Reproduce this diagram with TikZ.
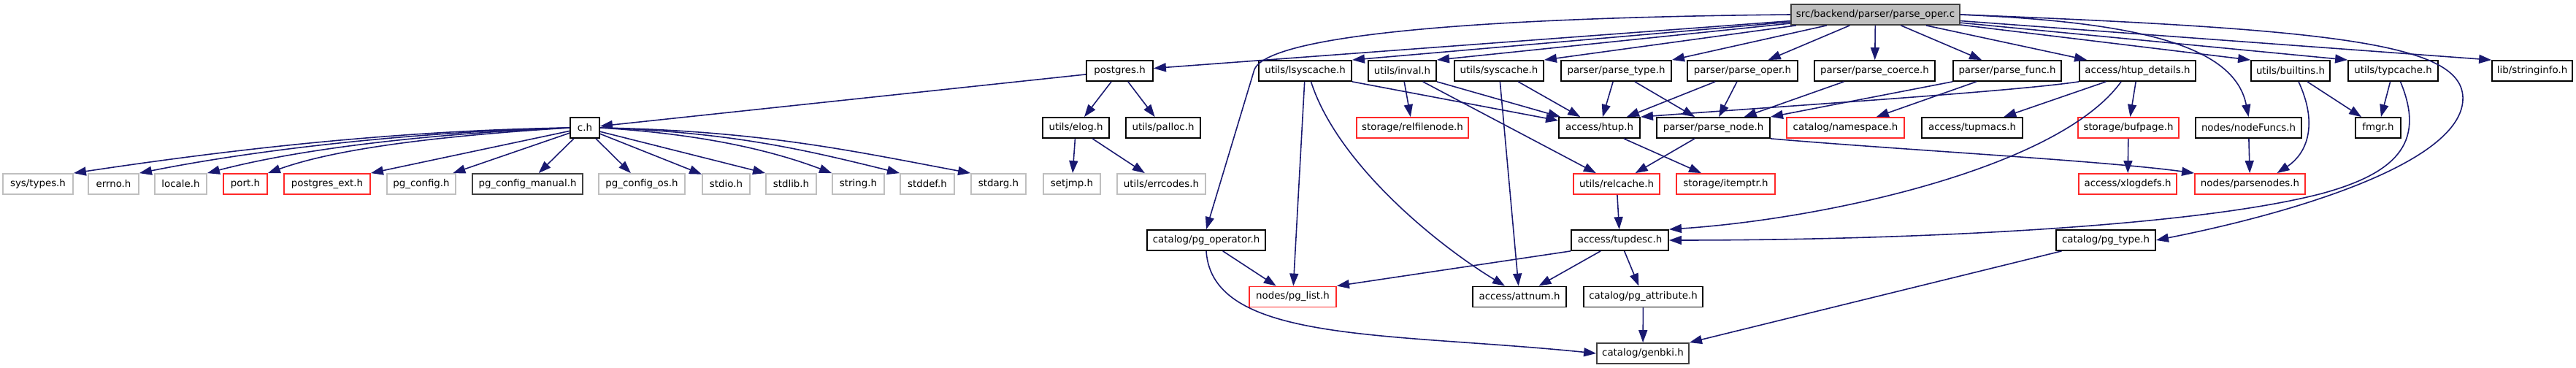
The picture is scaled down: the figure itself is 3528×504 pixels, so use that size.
\documentclass[tikz,border=0pt]{standalone}
\usepackage{fontspec}
\setmainfont{DejaVu Sans}
\usepackage{xcolor}
\usepackage{tikz}
\usetikzlibrary{positioning, arrows.meta}

\definecolor{edgeblue}{RGB}{25,25,112}
\definecolor{nodoc}{RGB}{191,191,191}
\definecolor{truncred}{RGB}{255,40,40}

\begin{document}
\begin{tikzpicture}[x=0.01cm, y=0.01cm,
    hdr/.style={draw=black, fill=white, line width=0.5pt, inner sep=0pt, minimum height=0.28cm, font=\fontsize{3.8}{4.6}\selectfont},
    nodochdr/.style={hdr, draw=nodoc},
    trunchdr/.style={hdr, draw=truncred},
    darkhdr/.style={hdr, draw=black!75},
    dep/.style={draw=edgeblue, line width=0.45pt, -{Triangle[length=0.17cm, width=0.12cm]}}]
      \useasboundingbox (0,0) rectangle (3528,-504);

      % Source file
      \node[darkhdr, fill=nodoc, minimum width=2.31cm] (root) at (2568.5,-20) {src/backend/parser/parse\_oper.c};

      % First level
      \node[hdr, minimum width=0.91cm] (postgres) at (1533.5,-97) {postgres.h};
      \node[hdr, minimum width=1.27cm] (lsyscache) at (1787.5,-97) {utils/lsyscache.h};
      \node[hdr, minimum width=0.93cm] (inval) at (1920.5,-97) {utils/inval.h};
      \node[hdr, minimum width=1.22cm] (syscache) at (2053,-97) {utils/syscache.h};
      \node[hdr, minimum width=1.51cm] (parsetype) at (2213.5,-97) {parser/parse\_type.h};
      \node[hdr, minimum width=1.51cm] (parseoperh) at (2386.5,-97) {parser/parse\_oper.h};
      \node[hdr, minimum width=1.65cm] (parsecoerce) at (2567.5,-97) {parser/parse\_coerce.h};
      \node[hdr, minimum width=1.48cm] (parsefunc) at (2749,-97) {parser/parse\_func.h};
      \node[hdr, minimum width=1.59cm] (htupdetails) at (2927.5,-97) {access/htup\_details.h};
      \node[hdr, minimum width=1.08cm] (builtins) at (3137,-97) {utils/builtins.h};
      \node[hdr, minimum width=1.23cm] (typcache) at (3277.5,-97) {utils/typcache.h};
      \node[hdr, minimum width=1.10cm] (stringinfo) at (3468,-97) {lib/stringinfo.h};

      % Second level
      \node[hdr, minimum width=0.40cm] (ch) at (801,-175) {c.h};
      \node[hdr, minimum width=0.91cm] (elog) at (1473.5,-175) {utils/elog.h};
      \node[hdr, minimum width=1.02cm] (palloc) at (1593,-175) {utils/palloc.h};
      \node[trunchdr, minimum width=1.53cm] (relfilenode) at (1934.5,-175) {storage/relfilenode.h};
      \node[hdr, minimum width=1.11cm] (htup) at (2190.5,-175) {access/htup.h};
      \node[hdr, minimum width=1.55cm] (parsenode) at (2346.5,-175) {parser/parse\_node.h};
      \node[trunchdr, minimum width=1.61cm] (namespace) at (2527.5,-175) {catalog/namespace.h};
      \node[hdr, minimum width=1.38cm] (tupmacs) at (2701,-175) {access/tupmacs.h};
      \node[trunchdr, minimum width=1.38cm] (bufpage) at (2915,-175) {storage/bufpage.h};
      \node[hdr, minimum width=1.45cm] (nodefuncs) at (3079.5,-175) {nodes/nodeFuncs.h};
      \node[hdr, minimum width=0.62cm] (fmgr) at (3257,-175) {fmgr.h};

      % Third level
      \node[nodochdr, minimum width=0.96cm] (systypes) at (52,-252) {sys/types.h};
      \node[nodochdr, minimum width=0.69cm] (errno) at (155.5,-252) {errno.h};
      \node[nodochdr, minimum width=0.71cm] (locale) at (247.5,-252) {locale.h};
      \node[trunchdr, minimum width=0.60cm] (port) at (336,-252) {port.h};
      \node[trunchdr, minimum width=1.18cm] (pgext) at (448,-252) {postgres\_ext.h};
      \node[nodochdr, minimum width=0.94cm] (pgconfig) at (577,-252) {pg\_config.h};
      \node[darkhdr, minimum width=1.51cm] (pgmanual) at (722.5,-252) {pg\_config\_manual.h};
      \node[nodochdr, minimum width=1.18cm] (pgconfigos) at (879,-252) {pg\_config\_os.h};
      \node[nodochdr, minimum width=0.65cm] (stdio) at (994.5,-252) {stdio.h};
      \node[nodochdr, minimum width=0.69cm] (stdlib) at (1083.5,-252) {stdlib.h};
      \node[nodochdr, minimum width=0.71cm] (string) at (1175.5,-252) {string.h};
      \node[nodochdr, minimum width=0.74cm] (stddef) at (1270,-252) {stddef.h};
      \node[nodochdr, minimum width=0.75cm] (stdarg) at (1367.5,-252) {stdarg.h};
      \node[nodochdr, minimum width=0.78cm] (setjmp) at (1468,-252) {setjmp.h};
      \node[nodochdr, minimum width=1.21cm] (errcodes) at (1590.5,-252) {utils/errcodes.h};
      \node[trunchdr, minimum width=1.18cm] (relcache) at (2214,-252) {utils/relcache.h};
      \node[trunchdr, minimum width=1.35cm] (itemptr) at (2363.5,-252) {storage/itemptr.h};
      \node[trunchdr, minimum width=1.34cm] (xlogdefs) at (2914,-252) {access/xlogdefs.h};
      \node[trunchdr, minimum width=1.51cm] (parsenodes) at (3081.5,-252) {nodes/parsenodes.h};

      % Lower levels
      \node[hdr, minimum width=1.62cm] (pgoperator) at (1652,-329) {catalog/pg\_operator.h};
      \node[hdr, minimum width=1.33cm] (tupdesc) at (2218.5,-329) {access/tupdesc.h};
      \node[hdr, minimum width=1.36cm] (pgtype) at (2884,-329) {catalog/pg\_type.h};
      \node[trunchdr, minimum width=1.19cm] (pglist) at (1770.5,-406.5) {nodes/pg\_list.h};
      \node[hdr, minimum width=1.28cm] (attnum) at (2081,-406.5) {access/attnum.h};
      \node[hdr, minimum width=1.63cm] (pgattribute) at (2250.5,-406.5) {catalog/pg\_attribute.h};
      \node[darkhdr, minimum width=1.26cm] (genbki) at (2250,-484) {catalog/genbki.h};

      % Arrows from the source file
      \draw[dep] (root) -- (postgres);
      \draw[dep] (root.west) .. controls (1950,-25) and (1735,-55) .. (1718,-95) -- (pgoperator.north);
      \draw[dep] (root) -- (lsyscache.north east);
      \draw[dep] (root) -- (inval.north east);
      \draw[dep] (root) -- (syscache.north east);
      \draw[dep] (root) -- (parsetype.north east);
      \draw[dep] (root) -- (parseoperh);
      \draw[dep] (root) -- (parsecoerce);
      \draw[dep] (root) -- (parsefunc);
      \draw[dep] (root) -- (htupdetails);
      \draw[dep] (root) -- (builtins.north west);
      \draw[dep] (root) -- (typcache.north west);
      \draw[dep] (root) -- (stringinfo.north west);
      \draw[dep] (root.east) .. controls (2920,-30) and (3060,-60) .. (nodefuncs.north);
      \draw[dep] (root.east) .. controls (3200,-40) and (3370,-60) .. (3373,-133) .. controls (3376,-220) and (3150,-290) .. (pgtype.east);

      % postgres.h and c.h
      \draw[dep] (postgres) -- (ch);
      \draw[dep] (postgres) -- (elog);
      \draw[dep] (postgres) -- (palloc);
      \draw[dep] (ch.west) .. controls +(-250,-4) and +(200,30) .. (systypes.north east);
      \draw[dep] (ch.west) .. controls +(-220,-6) and +(160,32) .. (errno.north east);
      \draw[dep] (ch.west) .. controls +(-190,-8) and +(130,34) .. (locale.north east);
      \draw[dep] (ch.west) .. controls +(-160,-10) and +(100,36) .. (port.north east);
      \draw[dep] (ch) -- (pgext.north east);
      \draw[dep] (ch) -- (pgconfig);
      \draw[dep] (ch) -- (pgmanual);
      \draw[dep] (ch) -- (pgconfigos);
      \draw[dep] (ch) -- (stdio);
      \draw[dep] (ch) -- (stdlib.north west);
      \draw[dep] (ch.east) .. controls +(130,-8) and +(-90,34) .. (string.north west);
      \draw[dep] (ch.east) .. controls +(180,-6) and +(-130,32) .. (stddef.north west);
      \draw[dep] (ch.east) .. controls +(220,-4) and +(-160,30) .. (stdarg.north west);
      \draw[dep] (elog) -- (setjmp);
      \draw[dep] (elog) -- (errcodes);

      % utils and parser headers
      \draw[dep] (lsyscache.south east) -- ([yshift=-0.05cm]htup.north west);
      \draw[dep] (lsyscache) -- (pglist);
      \draw[dep] ([xshift=0.08cm]lsyscache.south) .. controls (1830,-220) and (1960,-330) .. ([xshift=-0.2cm]attnum.north);
      \draw[dep] (inval) -- (relfilenode);
      \draw[dep] (inval.south east) -- ([xshift=0.03cm]htup.north west);
      \draw[dep] (inval) -- (relcache);
      \draw[dep] (syscache) -- (htup);
      \draw[dep] (syscache) -- (attnum);
      \draw[dep] (parsetype) -- (htup);
      \draw[dep] (parsetype) -- (parsenode);
      \draw[dep] (parseoperh) -- (htup);
      \draw[dep] (parseoperh) -- (parsenode);
      \draw[dep] (parsecoerce) -- (parsenode);
      \draw[dep] (parsefunc.south west) -- (parsenode.north east);
      \draw[dep] (parsefunc) -- (namespace);
      \draw[dep] (htupdetails.south west) .. controls (2760,-125) and (2450,-145) .. (htup.north east);
      \draw[dep] (htupdetails) -- (tupmacs);
      \draw[dep] ([xshift=-0.225cm]htupdetails.south) .. controls (2820,-230) and (2500,-300) .. (tupdesc.north east);
      \draw[dep] (htupdetails) -- (bufpage);
      \draw[dep] (builtins) -- (fmgr);
      \draw[dep] ([xshift=0.11cm]builtins.south) .. controls (3175,-170) and (3160,-210) .. ([xshift=0.37cm]parsenodes.north);
      \draw[dep] (typcache) -- (fmgr);
      \draw[dep] ([xshift=0.1cm]typcache.south) .. controls (3320,-190) and (3290,-235) .. (3180,-265) .. controls (3000,-312) and (2600,-329) .. (tupdesc.east);

      % Lower arrows
      \draw[dep] (htup) -- (itemptr);
      \draw[dep] (parsenode) -- (relcache);
      \draw[dep] (parsenode.south east) .. controls (2600,-205) and (2880,-220) .. (parsenodes.north west);
      \draw[dep] (bufpage) -- (xlogdefs);
      \draw[dep] (nodefuncs) -- (parsenodes);
      \draw[dep] (relcache) -- (tupdesc);
      \draw[dep] (tupdesc.south west) -- (pglist.north east);
      \draw[dep] (tupdesc) -- (attnum);
      \draw[dep] (tupdesc) -- (pgattribute);
      \draw[dep] (pgoperator) -- (pglist);
      \draw[dep] (pgoperator.south) .. controls (1660,-470) and (1900,-455) .. (genbki.west);
      \draw[dep] (pgattribute) -- (genbki);
      \draw[dep] (pgtype) -- (genbki.north east);
    \end{tikzpicture}
\end{document}
